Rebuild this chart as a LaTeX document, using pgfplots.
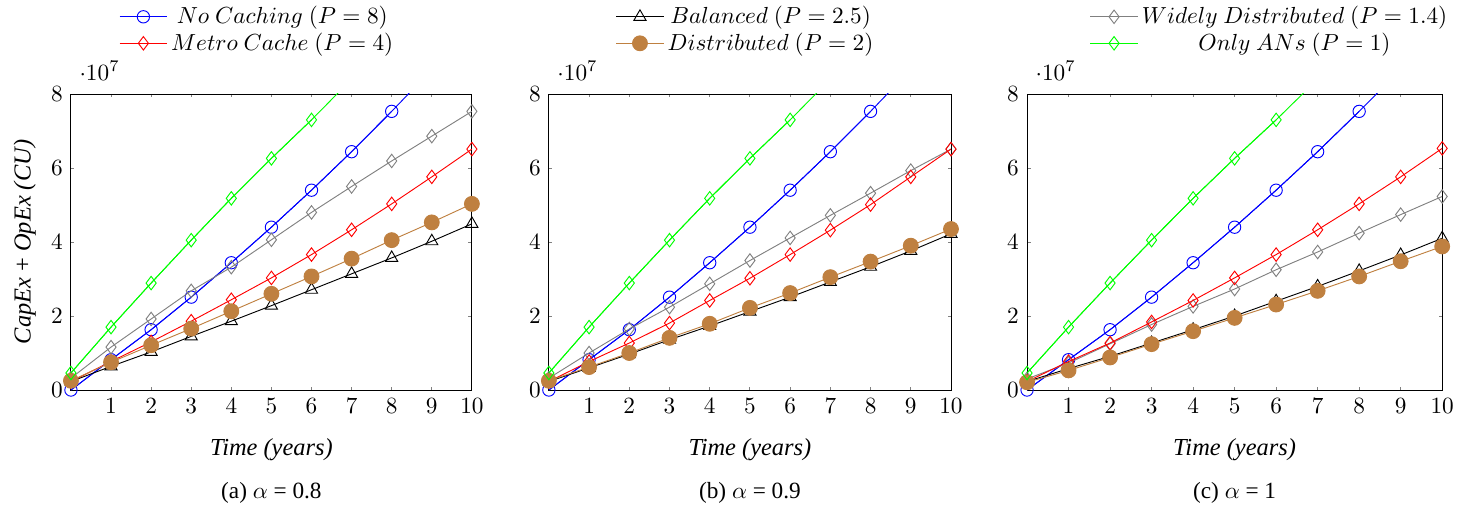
\documentclass[border=0pt]{standalone}
\usepackage{pgfplots}
\usepackage{pgfplotstable}
\pgfplotsset{compat=1.18}
\usepackage[no-math]{fontspec}
\setmainfont{Liberation Serif}

\pgfplotstableread{
x nc bal wd mc dist an
0 0 0.23 0.32 0.23 0.25 0.46
1 0.82 0.64 1.16 0.77 0.75 1.70
2 1.63 1.03 1.92 1.30 1.21 2.89
3 2.51 1.45 2.68 1.86 1.66 4.05
4 3.44 1.86 3.32 2.44 2.13 5.18
5 4.40 2.28 4.06 3.03 2.60 6.26
6 5.40 2.71 4.80 3.66 3.07 7.30
7 6.44 3.14 5.50 4.33 3.55 8.40
8 7.53 3.57 6.19 5.03 4.05 9.50
9 8.66 4.02 6.86 5.76 4.53 10.6
10 9.80 4.49 7.53 6.51 5.03 11.7
}\dataA

\pgfplotstableread{
x nc bal wd mc dist an
0 0 0.23 0.32 0.23 0.25 0.46
1 0.82 0.60 1.00 0.77 0.62 1.70
2 1.63 0.97 1.65 1.27 1.00 2.89
3 2.51 1.36 2.24 1.81 1.41 4.05
4 3.44 1.73 2.87 2.42 1.79 5.18
5 4.40 2.12 3.50 3.02 2.22 6.26
6 5.40 2.51 4.11 3.66 2.62 7.30
7 6.44 2.92 4.72 4.32 3.05 8.40
8 7.53 3.33 5.32 5.01 3.47 9.50
9 8.66 3.76 5.93 5.76 3.90 10.6
10 9.80 4.22 6.51 6.51 4.35 11.7
}\dataB

\pgfplotstableread{
x nc bal wd mc dist an
0 0 0.23 0.30 0.23 0.21 0.46
1 0.82 0.58 0.73 0.77 0.53 1.70
2 1.63 0.91 1.25 1.27 0.88 2.89
3 2.51 1.27 1.77 1.84 1.24 4.05
4 3.44 1.63 2.26 2.42 1.59 5.18
5 4.40 2.00 2.73 3.03 1.95 6.26
6 5.40 2.40 3.25 3.66 2.31 7.30
7 6.44 2.80 3.73 4.33 2.68 8.40
8 7.53 3.22 4.24 5.03 3.07 9.50
9 8.66 3.65 4.74 5.76 3.48 10.6
10 9.80 4.10 5.23 6.53 3.88 11.7
}\dataC

\pgfplotsset{
  ncS/.style={blue, mark=o, mark size=2.65pt},
  balS/.style={black, mark=triangle, mark size=3pt},
  wdS/.style={gray, mark=diamond, mark size=2.9pt},
  mcS/.style={red, mark=diamond, mark size=2.9pt},
  distS/.style={brown, mark=*, mark size=3.2pt, mark options={fill=brown, draw=brown}},
  anS/.style={green, mark=diamond, mark size=2.9pt},
  panel/.style={
    scale only axis, height=127.3pt,
    xmin=0, xmax=10, ymin=0, ymax=8,
    xtick={1,...,10}, ytick={0,2,4,6,8},
    major tick length=1.5pt,
    tick style={gray, thin},
    clip mode=individual,
    xlabel={\fontsize{10.5}{12}\selectfont\itshape Time (years)},
    xlabel style={at={(rel axis cs:0.5,0)}, anchor=center, yshift=-25.8pt},
    legend cell align=center,
    legend image code/.code={\draw[mark repeat=2,mark phase=2] plot coordinates {(0cm,0cm)(0.36cm,0cm)(0.72cm,0cm)};},
    legend style={draw=none, fill=none, inner sep=0pt, anchor=north west, row sep=0pt,
      nodes={inner xsep=1.5pt, inner ysep=1.2pt}},
  },
}

\begin{document}
\begin{tikzpicture}
\useasboundingbox (-30.5pt,-52.5pt) rectangle (605pt,167.7pt);

% ---------- panel (a)
\begin{axis}[panel, width=172.4pt, at={(0pt,0pt)}, anchor=south west,
  ylabel={\fontsize{10.5}{12}\selectfont\itshape CapEx {\upshape +} OpEx (CU)},
  ylabel style={at={(rel axis cs:-0.115,0.5)}, anchor=center, rotate=0},
  legend style={at={(rel axis cs:0.119,1.307)}}]
\addplot[ncS, mark=none, forget plot] table[x=x,y=nc]{\dataA};
\addplot[ncS, restrict y to domain=-1:8.2] table[x=x,y=nc]{\dataA};
\addlegendentry{$No\ Caching\ (P=8)$}
\addplot[balS, forget plot] table[x=x,y=bal]{\dataA};
\addplot[wdS, forget plot] table[x=x,y=wd]{\dataA};
\addplot[mcS] table[x=x,y=mc]{\dataA};
\addlegendentry{$Metro\ Cache\ (P=4)$}
\addplot[distS, forget plot] table[x=x,y=dist]{\dataA};
\addplot[anS, mark=none, forget plot] table[x=x,y=an]{\dataA};
\addplot[anS, restrict y to domain=-1:8.2, forget plot] table[x=x,y=an]{\dataA};
\node[anchor=base west, inner sep=0pt] at ([xshift=3.5pt,yshift=6pt]rel axis cs:0,1) {$\cdot 10^{7}$};
\node[anchor=center] at ([yshift=-44.3pt]rel axis cs:0.5,0) {(a) $\alpha$ = 0.8};
\end{axis}

% ---------- panel (b)
\begin{axis}[panel, width=172.9pt, at={(205.5pt,0pt)}, anchor=south west,
  legend style={at={(rel axis cs:0.165,1.307)}}]
\addplot[ncS, mark=none, forget plot] table[x=x,y=nc]{\dataB};
\addplot[ncS, restrict y to domain=-1:8.2, forget plot] table[x=x,y=nc]{\dataB};
\addplot[balS] table[x=x,y=bal]{\dataB};
\addlegendentry{$Balanced\ (P=2.5)$}
\addplot[wdS, forget plot] table[x=x,y=wd]{\dataB};
\addplot[mcS, forget plot] table[x=x,y=mc]{\dataB};
\addplot[distS] table[x=x,y=dist]{\dataB};
\addlegendentry{$Distributed\ (P=2)$}
\addplot[anS, mark=none, forget plot] table[x=x,y=an]{\dataB};
\addplot[anS, restrict y to domain=-1:8.2, forget plot] table[x=x,y=an]{\dataB};
\node[anchor=base west, inner sep=0pt] at ([xshift=3.5pt,yshift=6pt]rel axis cs:0,1) {$\cdot 10^{7}$};
\node[anchor=center] at ([yshift=-44.3pt]rel axis cs:0.5,0) {(b) $\alpha$ = 0.9};
\end{axis}

% ---------- panel (c)
\begin{axis}[panel, width=178.5pt, at={(411.1pt,0pt)}, anchor=south west,
  legend style={at={(rel axis cs:0.15,1.307)}}]
\addplot[ncS, mark=none, forget plot] table[x=x,y=nc]{\dataC};
\addplot[ncS, restrict y to domain=-1:8.2, forget plot] table[x=x,y=nc]{\dataC};
\addplot[balS, forget plot] table[x=x,y=bal]{\dataC};
\addplot[wdS] table[x=x,y=wd]{\dataC};
\addlegendentry{$Widely\ Distributed\ (P=1.4)$}
\addplot[mcS, forget plot] table[x=x,y=mc]{\dataC};
\addplot[distS, forget plot] table[x=x,y=dist]{\dataC};
\addplot[anS, mark=none, forget plot] table[x=x,y=an]{\dataC};
\addplot[anS, restrict y to domain=-1:8.2] table[x=x,y=an]{\dataC};
\addlegendentry{$Only\ ANs\ (P=1)$}
\node[anchor=base west, inner sep=0pt] at ([xshift=3.5pt,yshift=6pt]rel axis cs:0,1) {$\cdot 10^{7}$};
\node[anchor=center] at ([yshift=-44.3pt]rel axis cs:0.5,0) {(c) $\alpha$ = 1};
\end{axis}
\end{tikzpicture}
\end{document}
